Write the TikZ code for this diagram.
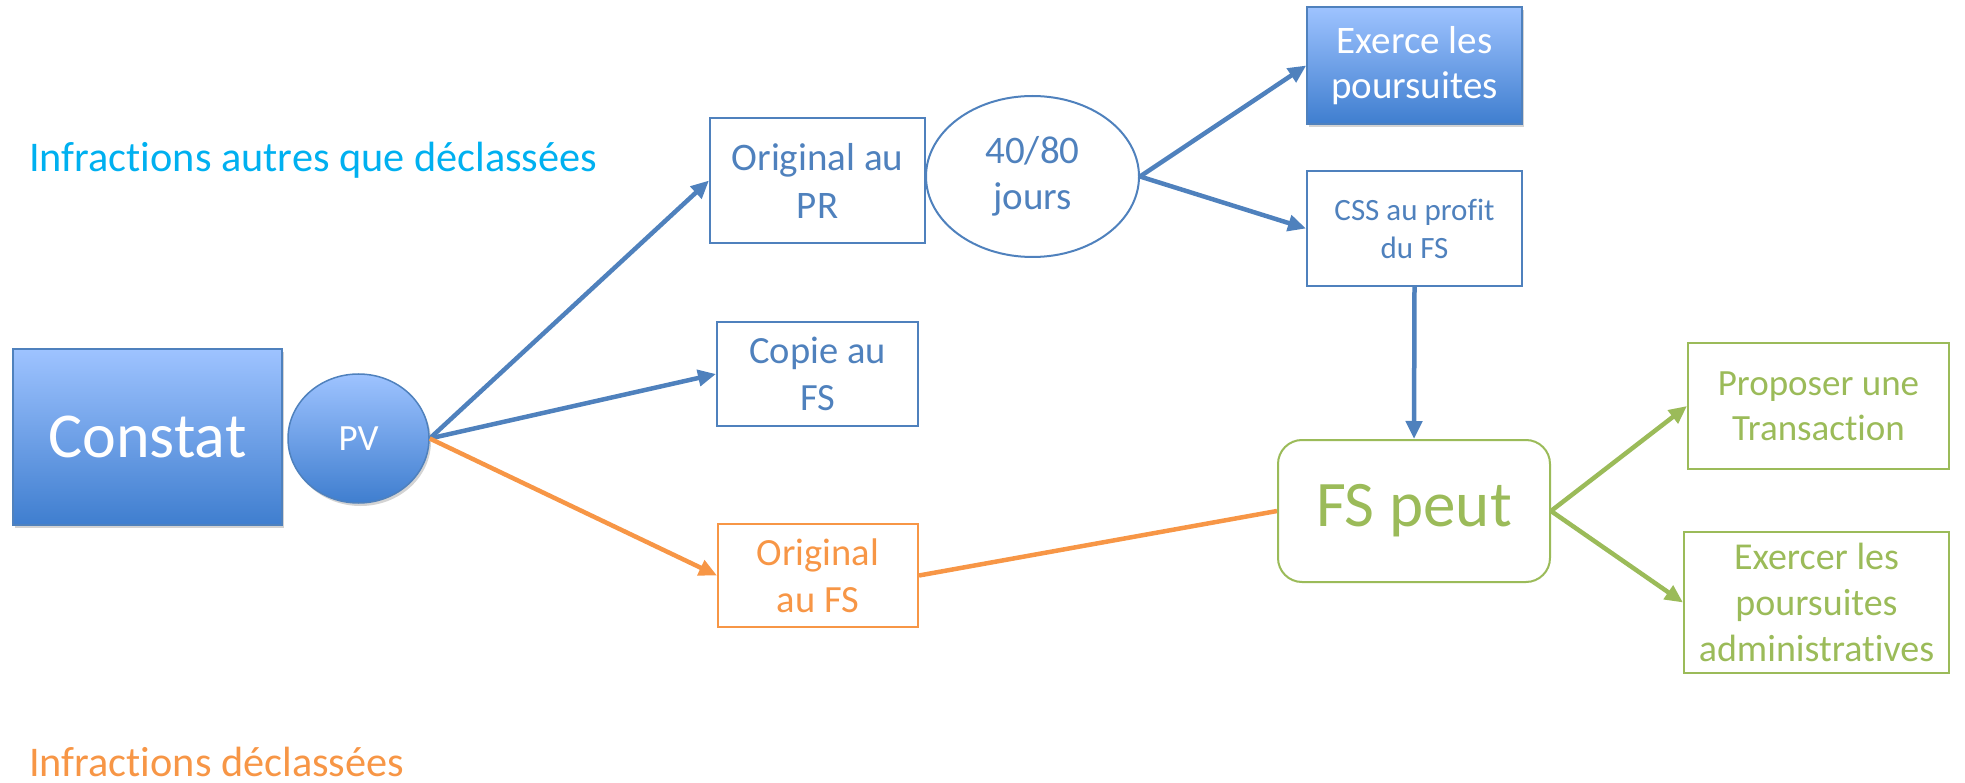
\documentclass[tikz,border=0pt]{standalone}
\usepackage{fontspec}
\setmainfont{Carlito}[RawFeature={-liga;-clig}]
\usetikzlibrary{arrows.meta,shapes.geometric,shadows}
\definecolor{ablue}{HTML}{4F81BD}
\definecolor{aorange}{HTML}{F79646}
\definecolor{agreen}{HTML}{9BBB59}
\definecolor{acyan}{HTML}{00B0F0}
\definecolor{gtop}{HTML}{9EC3FF}
\definecolor{gbot}{HTML}{3F7ECF}
\tikzset{
  box/.style={draw, line width=2pt, rectangle, inner sep=0pt, align=center},
  bluebox/.style={box, draw=ablue, text=ablue},
  orangebox/.style={box, draw=aorange, text=aorange},
  greenbox/.style={box, draw=agreen, text=agreen},
  gradbox/.style={draw=ablue, line width=1.5pt, top color=gtop, bottom color=gbot, text=white, inner sep=0pt, align=center,
     drop shadow={opacity=0.35, shadow xshift=2pt, shadow yshift=-3pt}},
  barrow/.style={draw=ablue, line width=4.5pt, -{Triangle[length=18pt,width=16pt]}},
  oarrow/.style={draw=aorange, line width=4.5pt, -{Triangle[length=18pt,width=16pt]}},
  garrow/.style={draw=agreen, line width=4.5pt, -{Triangle[length=18pt,width=16pt]}},
  oline/.style={draw=aorange, line width=4.5pt},
}
\begin{document}
\begin{tikzpicture}[x=1pt,y=-1pt]
\useasboundingbox (0,0) rectangle (1965,783);
% labels
\node[anchor=base west, inner sep=0pt, text=acyan, font=\fontsize{42.3}{51}\selectfont] (lab1) at (29,172) {Infractions autres que déclassées};
\node[anchor=base west, inner sep=0pt, text=aorange, font=\fontsize{42.3}{51}\selectfont] (lab2) at (29,776) {Infractions déclassées};
% left nodes
\node[gradbox, rectangle, minimum width=269pt, minimum height=176pt, font=\fontsize{64}{78}\selectfont] (constat) at (147.5,437) {Constat};
\node[gradbox, ellipse, minimum width=141pt, minimum height=129pt, font=\fontsize{37}{45}\selectfont] (pv) at (358.5,438.5) {PV};
% middle
\node[bluebox, minimum width=215pt, minimum height=125pt, font=\fontsize{39}{48}\selectfont] (opr) at (817.5,180.5) {Original au\\PR};
\node[draw=ablue, line width=2pt, ellipse, inner sep=0pt, text=ablue, align=center, minimum width=213pt, minimum height=161pt, font=\fontsize{39}{45}\selectfont] (jours) at (1032.5,176.5) {40/80\\[1pt]jours};
\node[bluebox, minimum width=201pt, minimum height=104pt, font=\fontsize{38.5}{47}\selectfont] (copie) at (817.5,374) {Copie au\\FS};
\node[orangebox, minimum width=200pt, minimum height=103pt, font=\fontsize{38.5}{47}\selectfont] (ofs) at (818,575.5) {Original\\au FS};
% right top
\node[gradbox, rectangle, minimum width=215pt, minimum height=117pt, font=\fontsize{39}{45}\selectfont] (exerce) at (1414.5,65.5) {Exerce les\\poursuites};
\node[bluebox, minimum width=215pt, minimum height=115pt, font=\fontsize{31}{38}\selectfont] (css) at (1414.5,228.5) {CSS au profit\\du FS};
% FS peut
\node[greenbox, rounded corners=24pt, minimum width=272pt, minimum height=142pt, font=\fontsize{65}{78}\selectfont] (fs) at (1414,511) {FS peut};
\node[greenbox, minimum width=261pt, minimum height=126pt, font=\fontsize{37}{45}\selectfont] (prop) at (1818.5,406) {Proposer une\\Transaction};
\node[greenbox, minimum width=265pt, minimum height=141pt, font=\fontsize{38}{46}\selectfont] (admin) at (1816.5,602.5) {Exercer les\\poursuites\\administratives};
% connectors
\draw[barrow] (pv.east) -- (opr.west);
\draw[barrow] (pv.east) -- (copie.west);
\draw[oarrow] (pv.east) -- (ofs.west);
\draw[barrow] (jours.east) -- (exerce.west);
\draw[barrow] (jours.east) -- (css.west);
\draw[barrow] (css.south) -- (fs.north);
\draw[oline] (ofs.east) -- (fs.west);
\draw[garrow] (fs.east) -- (prop.west);
\draw[garrow] (fs.east) -- (admin.west);
\end{tikzpicture}
\end{document}
